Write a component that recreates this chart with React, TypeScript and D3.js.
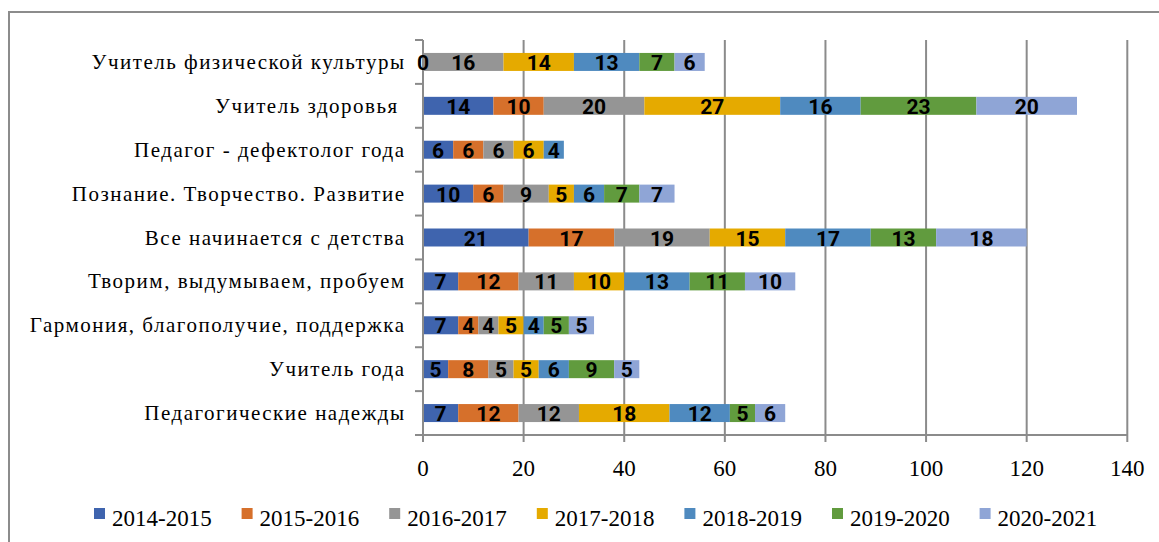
import React from "react";
import * as d3 from "d3";

// categories, top to bottom as drawn
const categories = [
  "Учитель физической культуры",
  "Учитель здоровья ",
  "Педагог - дефектолог года",
  "Познание. Творчество. Развитие",
  "Все начинается с детства",
  "Творим, выдумываем, пробуем",
  "Гармония, благополучие, поддержка",
  "Учитель года",
  "Педагогические надежды",
];

const seasons = ["2014-2015", "2015-2016", "2016-2017", "2017-2018", "2018-2019", "2019-2020", "2020-2021"];

// one array per season, in category order (null = no bar, no label)
const s2014 = [0, 14, 6, 10, 21, 7, 7, 5, 7];
const s2015 = [null, 10, 6, 6, 17, 12, 4, 8, 12];
const s2016 = [16, 20, 6, 9, 19, 11, 4, 5, 12];
const s2017 = [14, 27, 6, 5, 15, 10, 5, 5, 18];
const s2018 = [13, 16, 4, 6, 17, 13, 4, 6, 12];
const s2019 = [7, 23, null, 7, 13, 11, 5, 9, 5];
const s2020 = [6, 20, null, 7, 18, 10, 5, 5, 6];

const seriesValues = [s2014, s2015, s2016, s2017, s2018, s2019, s2020];

const xTicks = [0, 20, 40, 60, 80, 100, 120, 140];

const colors = ["#3f64ae", "#d6702b", "#959595", "#e5aa00", "#4f8abf", "#619b3e", "#8fa5d6"];

const W = 1159;
const H = 542;

export default function App() {
  const plot = { left: 423, right: 1127.3, top: 40, bottom: 435 };

  const x = d3.scaleLinear().domain([0, 140]).range([plot.left, plot.right]);
  const y = d3.scaleBand<string>().domain(categories).range([plot.top, plot.bottom]).padding(0);
  const barH = y.bandwidth() * 0.41;

  const rows = categories.map((c, i) => {
    const row: any = { cat: c };
    seasons.forEach((s, j) => (row[s] = seriesValues[j][i] ?? 0));
    return row;
  });
  const stacked = d3.stack<any>().keys(seasons)(rows);

  const serif = { fontFamily: '"Liberation Serif", "DejaVu Serif", "Times New Roman", serif' };
  const labelFont = { fontFamily: 'Roboto, "Liberation Sans", sans-serif' };
  const gridColor = "#8b8b8b";

  const boundaries = d3.range(categories.length + 1).map((i) => plot.top + i * y.step());

  return (
    <svg width={W} height={H} style={{ position: "absolute", left: 0, top: 0, background: "#fff" }}>
      <rect x={9} y={12} width={W} height={H} fill="#fff" stroke="#8c8c8c" strokeWidth={2} />

      {/* vertical gridlines */}
      {xTicks.map((t) => (
        <line key={"g" + t} x1={x(t)} x2={x(t)} y1={plot.top} y2={plot.bottom} stroke={gridColor} strokeWidth={2} />
      ))}

      {/* bars */}
      {stacked.map((layer, j) => (
        <g key={layer.key} fill={colors[j]}>
          {layer.map((d, i) => {
            const v = seriesValues[j][i];
            if (v === null || v === 0) return null;
            return (
              <rect
                key={i}
                x={x(d[0])}
                y={(y(categories[i]) as number) + (y.bandwidth() - barH) / 2}
                width={x(d[1]) - x(d[0])}
                height={barH}
              />
            );
          })}
        </g>
      ))}

      {/* category axis */}
      <line x1={plot.left} x2={plot.left} y1={plot.top} y2={plot.bottom} stroke={gridColor} strokeWidth={2} />
      {boundaries.map((b, i) => (
        <line key={"yt" + i} x1={plot.left - 8} x2={plot.left} y1={b} y2={b} stroke={gridColor} strokeWidth={2} />
      ))}
      {categories.map((c) => (
        <text
          key={c}
          x={405.5}
          y={(y(c) as number) + y.bandwidth() / 2 + 7}
          textAnchor="end"
          fontSize={21}
          letterSpacing={1.5}
          style={{ ...serif, whiteSpace: "pre" }}
          fill="#000"
        >
          {c}
        </text>
      ))}

      {/* value axis */}
      <line x1={plot.left - 8} x2={plot.right} y1={plot.bottom} y2={plot.bottom} stroke={gridColor} strokeWidth={2} />
      {xTicks.map((t) => (
        <g key={"xt" + t}>
          <line x1={x(t)} x2={x(t)} y1={plot.bottom} y2={plot.bottom + 7} stroke={gridColor} strokeWidth={2} />
          <text x={x(t)} y={476} textAnchor="middle" fontSize={23} style={serif} fill="#000">
            {t}
          </text>
        </g>
      ))}

      {/* value labels */}
      {stacked.map((layer, j) => (
        <g key={"l" + layer.key}>
          {layer.map((d, i) => {
            const v = seriesValues[j][i];
            if (v === null) return null;
            return (
              <text
                key={i}
                x={(x(d[0]) + x(d[1])) / 2}
                y={(y(categories[i]) as number) + y.bandwidth() / 2 + 8}
                textAnchor="middle"
                fontWeight="bold"
                fontSize={21}
                style={labelFont}
                fill="#000"
              >
                {v}
              </text>
            );
          })}
        </g>
      ))}

      {/* legend */}
      {seasons.map((s, j) => {
        const lx = 94 + j * 147.6;
        return (
          <g key={"lg" + s}>
            <rect x={lx} y={508} width={11} height={11} fill={colors[j]} />
            <text x={lx + 18} y={526} fontSize={23} style={serif} fill="#000">
              {s}
            </text>
          </g>
        );
      })}
    </svg>
  );
}
